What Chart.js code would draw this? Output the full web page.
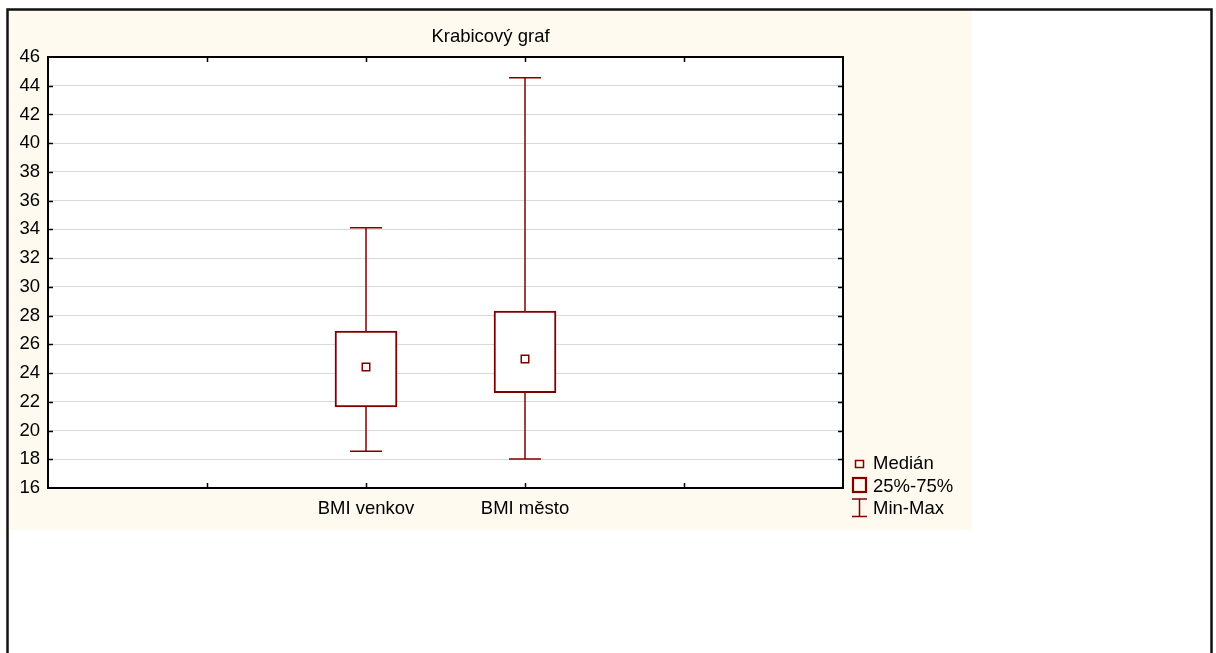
<!DOCTYPE html>
<html><head><meta charset="utf-8">
<script src="https://cdn.jsdelivr.net/npm/chart.js@4/dist/chart.umd.min.js"></script>
<style>html,body{margin:0;padding:0;background:#fff;overflow:hidden}#wrap{position:relative;width:1216px;height:653px}</style>
</head><body><div id="wrap"><canvas id="c" width="1216" height="653"></canvas></div>
<script>
// ---- data ----
const categories = ['', '', 'BMI venkov', 'BMI město', '', ''];
const boxCategories = ['BMI venkov', 'BMI město'];
const minValues = [18.55, 18.02];
const q1Values = [21.64, 22.63];
const medianValues = [24.42, 24.98];
const q3Values = [26.93, 28.32];
const maxValues = [34.12, 44.56];
const yMin = 16, yMax = 46, yStep = 2;
const titleText = 'Krabicový graf';
const legendLabels = ['Medián', '25%-75%', 'Min-Max'];

// ---- styles ----
const FONT = "'Liberation Sans', Arial, sans-serif";
const RED = '#800000';
const BEIGE = '#fffaf0';

const boxData = categories.map(c => {
  const k = boxCategories.indexOf(c);
  return k < 0 ? null : [q1Values[k], q3Values[k]];
});

const whiskerSets = boxCategories.map((c, k) => ({
  type: 'line',
  data: [{x: c, y: maxValues[k]}, {x: c, y: minValues[k]}],
  borderColor: RED, borderWidth: 1.5,
  pointStyle: 'line', pointRadius: 16, pointBorderWidth: 1.5,
  pointBorderColor: RED, pointBackgroundColor: RED,
  order: 2
}));

const bgPlugin = {
  id: 'bg',
  beforeDraw(chart) {
    const ctx = chart.ctx, a = chart.chartArea;
    ctx.save();
    ctx.fillStyle = '#fff';
    ctx.fillRect(0, 0, chart.width, chart.height);
    ctx.fillStyle = BEIGE;
    ctx.fillRect(9, 11, 963, 519);
    ctx.fillStyle = '#fff';
    ctx.fillRect(a.left, a.top, a.right - a.left, a.bottom - a.top);
    ctx.strokeStyle = '#111';
    ctx.lineWidth = 2.5;
    ctx.strokeRect(7.5, 9.5, 1204, 700);
    ctx.restore();
  }
};

const framePlugin = {
  id: 'frame',
  afterDatasetsDraw(chart) {
    const ctx = chart.ctx, a = chart.chartArea;
    const xs = chart.scales.x, ys = chart.scales.y;
    ctx.save();
    ctx.strokeStyle = '#000';
    ctx.lineWidth = 1.5;
    ctx.beginPath();
    for (let v = yMin + yStep; v < yMax; v += yStep) {
      const y = Math.round(ys.getPixelForValue(v)) + 0.5;
      ctx.moveTo(a.left, y); ctx.lineTo(a.left + 5, y);
      ctx.moveTo(a.right, y); ctx.lineTo(a.right - 5, y);
    }
    for (let i = 1; i < categories.length - 1; i++) {
      const x = Math.round(xs.getPixelForValue(i)) + 0.5;
      ctx.moveTo(x, a.top); ctx.lineTo(x, a.top + 5);
      ctx.moveTo(x, a.bottom); ctx.lineTo(x, a.bottom - 5);
    }
    ctx.stroke();
    ctx.lineWidth = 2;
    ctx.strokeRect(a.left, a.top, a.right - a.left, a.bottom - a.top);
    ctx.restore();
  },
  afterDraw(chart) {
    const ctx = chart.ctx;
    ctx.save();
    ctx.strokeStyle = RED;
    ctx.lineWidth = 1.5;
    ctx.strokeRect(855.5, 460.5, 8, 7);
    ctx.lineWidth = 2.2;
    ctx.strokeRect(853, 478, 13, 14);
    ctx.lineWidth = 1.5;
    ctx.beginPath();
    ctx.moveTo(852, 499); ctx.lineTo(867, 499);
    ctx.moveTo(859.5, 499); ctx.lineTo(859.5, 516);
    ctx.moveTo(852, 516.5); ctx.lineTo(867, 516.5);
    ctx.stroke();
    ctx.fillStyle = '#000';
    ctx.font = '18.5px ' + FONT;
    ctx.textBaseline = 'alphabetic';
    ctx.textAlign = 'left';
    const baselines = [469, 492, 514];
    legendLabels.forEach((t, i) => ctx.fillText(t, 873, baselines[i]));
    ctx.restore();
  }
};

new Chart(document.getElementById('c'), {
  type: 'bar',
  data: {
    labels: categories,
    datasets: [
      {
        type: 'line',
        data: boxCategories.map((c, k) => ({x: c, y: medianValues[k]})),
        showLine: false,
        pointStyle: 'rect', pointRadius: 5.3, pointBorderWidth: 1.5,
        pointBorderColor: RED, pointBackgroundColor: '#fff',
        order: 0
      },
      {
        type: 'bar',
        data: boxData,
        backgroundColor: '#fff',
        borderColor: RED,
        borderWidth: 2,
        borderSkipped: false,
        barThickness: 62,
        order: 1
      },
      ...whiskerSets
    ]
  },
  options: {
    responsive: false,
    animation: false,
    events: [],
    layout: { padding: { left: 0, right: 235, top: 0, bottom: 120 } },
    plugins: {
      legend: { display: false },
      tooltip: { enabled: false },
      title: {
        display: true, text: titleText, color: '#000',
        font: { family: FONT, size: 18.5, weight: 'normal', lineHeight: 1.2 },
        padding: { top: 25.5, bottom: 9.3 }
      }
    },
    scales: {
      x: {
        type: 'category', offset: false,
        grid: { display: false }, border: { display: false },
        ticks: { color: '#000', font: { family: FONT, size: 18.5 }, maxRotation: 0, autoSkip: false, padding: 2 },
        afterFit(s) { s.height = 45; }
      },
      y: {
        min: yMin, max: yMax,
        grid: { color: '#d9d9d9', lineWidth: 1, drawTicks: false },
        border: { display: false },
        ticks: { stepSize: yStep, color: '#000', font: { family: FONT, size: 18.5 }, padding: 8 },
        afterFit(s) { s.width = 48; }
      },
      yPad: {
        type: 'linear', position: 'right', display: true,
        grid: { display: false }, border: { display: false },
        ticks: { display: false },
        afterFit(s) { s.width = 138; }
      }
    }
  },
  plugins: [bgPlugin, framePlugin]
});
</script></body></html>
